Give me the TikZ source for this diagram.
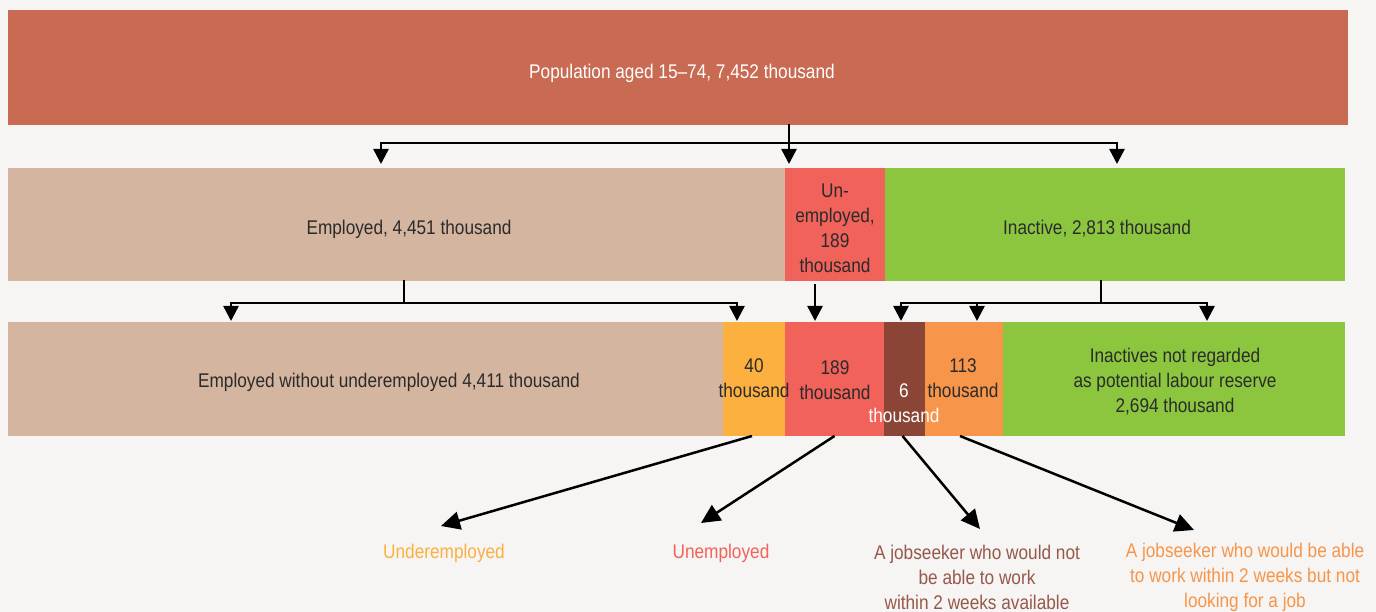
\documentclass[tikz,border=0pt]{standalone}
\usepackage{fontspec}
\setmainfont{Liberation Sans}[FakeStretch=0.87]
\usetikzlibrary{arrows.meta}
\definecolor{bg}{HTML}{F6F5F3}
\definecolor{ctop}{HTML}{C96A53}
\definecolor{ctan}{HTML}{D4B59F}
\definecolor{cred}{HTML}{F0625A}
\definecolor{cgreen}{HTML}{8CC63F}
\definecolor{cyel}{HTML}{FBB040}
\definecolor{cbrown}{HTML}{8A4537}
\definecolor{corange}{HTML}{F7954A}
\definecolor{dtext}{HTML}{2B2B2B}
\begin{document}
\begin{tikzpicture}[x=1pt,y=-1pt,
  font=\fontsize{19.8}{25}\selectfont,
  box/.style={draw=none, inner sep=0pt, outer sep=0pt, anchor=north west},
  txt/.style={text=dtext, align=center, inner sep=0pt},
  ln/.style={line width=2.5pt, line cap=rect},
  arr/.style={line width=2.5pt, -{Triangle[width=15pt,length=15pt]}},
  darr/.style={line width=2.5pt, -{Triangle[width=18pt,length=19pt]}}]
\fill[bg] (0,0) rectangle (1376,612);
\useasboundingbox (0,0) rectangle (1376,612);

% boxes
\node[box, fill=ctop, minimum width=1340pt, minimum height=115pt] (top) at (8,10) {};
\node[box, fill=ctan, minimum width=777pt, minimum height=113pt] (emp) at (8,168) {};
\node[box, fill=cred, minimum width=100pt, minimum height=113pt] (unemp) at (785,168) {};
\node[box, fill=cgreen, minimum width=460pt, minimum height=113pt] (inact) at (885,168) {};
\node[box, fill=ctan, minimum width=715pt, minimum height=114pt] (ewo) at (8,322) {};
\node[box, fill=cyel, minimum width=62pt, minimum height=114pt] (b40) at (723,322) {};
\node[box, fill=cred, minimum width=99pt, minimum height=114pt] (b189) at (785,322) {};
\node[box, fill=cbrown, minimum width=41pt, minimum height=114pt] (b6) at (884,322) {};
\node[box, fill=corange, minimum width=78pt, minimum height=114pt] (b113) at (925,322) {};
\node[box, fill=cgreen, minimum width=342pt, minimum height=114pt] (inr) at (1003,322) {};

% box texts
\node[txt, text=white] (ttop) at (682,73) {Population aged 15–74, 7,452 thousand};
\node[txt] (temp) at (409,229) {Employed, 4,451 thousand};
\node[txt] (tunemp) at (835,228) {Un-\\employed,\\189\\thousand};
\node[txt] (tinact) at (1097,229) {Inactive, 2,813 thousand};
\node[txt] (tewo) at (389,382) {Employed without underemployed 4,411 thousand};
\node[txt] (t40) at (754,378) {40\\thousand};
\node[txt] (t189) at (835,380) {189\\thousand};
\node[txt, text=white] (t6) at (904,403) {6\\thousand};
\node[txt] (t113) at (963,378) {113\\thousand};
\node[txt] (tinr) at (1175,382) {Inactives not regarded\\as potential labour reserve\\2,694 thousand};

% bottom labels
\node[txt, text=cyel] (lund) at (444,553) {Underemployed};
\node[txt, text=cred] (lune) at (721,553) {Unemployed};
\node[txt, text=cbrown!90!white] (ljs1) at (977,577) {A jobseeker who would not\\be able to work\\within 2 weeks available};
\node[txt, text=corange] (ljs2) at (1245,577) {A jobseeker who would be able\\to work within 2 weeks but not\\looking for a job};

% level 1 connectors
\coordinate (j1) at (789,143);
\coordinate (a1) at (381,143);
\coordinate (a3) at (1117,143);
\draw[ln] (top.south -| j1) -- (j1);
\draw[ln] (a1) -- (a3);
\draw[arr, shorten >=4pt] (a1) -- (a1 |- emp.north);
\draw[arr, shorten >=4pt] (j1) -- (j1 |- emp.north);
\draw[arr, shorten >=4pt] (a3) -- (a3 |- inact.north);

% level 2 connectors (employed)
\coordinate (j2) at (404,303);
\coordinate (b1) at (231,303);
\coordinate (b2) at (737,303);
\draw[ln] (emp.south -| j2) -- (j2);
\draw[ln] (b1) -- (b2);
\draw[arr, shorten >=1pt] (b1) -- (b1 |- ewo.north);
\draw[arr, shorten >=1pt] (b2) -- (b2 |- b40.north);

% unemployed
\coordinate (u1) at (815,284);
\draw[arr, shorten >=1pt] (u1) -- (u1 |- b189.north);

% inactive
\coordinate (j3) at (1101,303);
\coordinate (c1) at (901,303);
\coordinate (c2) at (977,303);
\coordinate (c3) at (1207,303);
\draw[ln] (inact.south -| j3) -- (j3);
\draw[ln] (c1) -- (c3);
\draw[arr, shorten >=1pt] (c1) -- (c1 |- b6.north);
\draw[arr, shorten >=1pt] (c2) -- (c2 |- b113.north);
\draw[arr, shorten >=1pt] (c3) -- (c3 |- inr.north);

% diagonal arrows
\coordinate (d1) at (441,526);
\coordinate (d2) at (701,523);
\coordinate (d3) at (980,529);
\coordinate (d4) at (1194,530);
\draw[darr] ([xshift=-2pt]b40.south) -- (d1);
\draw[darr] (b189.south) -- (d2);
\draw[darr] ([xshift=-2pt]b6.south) -- (d3);
\draw[darr] ([xshift=-4pt]b113.south) -- (d4);
\end{tikzpicture}
\end{document}
